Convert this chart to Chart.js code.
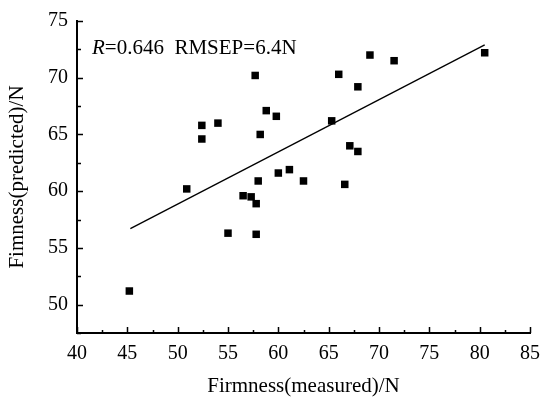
<!DOCTYPE html>
<html>
<head>
<meta charset="utf-8">
<script src="https://cdn.jsdelivr.net/npm/chart.js@4"></script>
<style>
  html, body { margin: 0; padding: 0; background: #fff; }
  #wrap { width: 540px; height: 399px; }
</style>
</head>
<body>
<div id="wrap"><canvas id="c" width="540" height="399"></canvas></div>
<script>
// Firmness: measured vs predicted (scatter + fit line)

// Data
const measured  = [57.7, 52.4, 54.0, 52.4, 58.8, 59.8, 58.2, 60.0, 61.1, 58.0, 62.5, 69.1, 71.5, 66.0,
                   67.9, 65.3, 67.1, 67.9, 80.5, 66.6, 50.9, 56.5, 57.3, 57.8, 55.0, 57.8, 45.2];
const predicted = [70.2, 65.8, 66.0, 64.6, 67.1, 66.6, 65.0, 61.6, 61.9, 60.9, 60.9, 72.0, 71.5, 70.3,
                   69.2, 66.2, 64.0, 63.5, 72.2, 60.6, 60.2, 59.6, 59.5, 58.9, 56.3, 56.2, 51.2];
const fitX = [45.3, 80.5];
const fitY = [56.7, 72.9];

const xTicks = [40, 45, 50, 55, 60, 65, 70, 75, 80, 85];
const yTicks = [50, 55, 60, 65, 70, 75];
const yMin = 47.5;
const statsLabel = ['R', '=0.646  RMSEP=6.4N'];

const FONT = "'Liberation Serif', 'Times New Roman', serif";

// inward major/minor tick marks, drawn through the scales
const inwardTicks = {
  id: 'inwardTicks',
  afterDatasetsDraw(chart){
    const { ctx, scales: { x, y } } = chart;
    ctx.save();
    ctx.strokeStyle = '#000';
    ctx.lineWidth = 1.5;
    ctx.beginPath();
    for (let v = xTicks[0]; v <= xTicks[xTicks.length - 1]; v += 2.5) {
      const px = Math.round(x.getPixelForValue(v)) + 0.5;
      const len = v % 5 === 0 ? 6 : 3;
      ctx.moveTo(px, y.bottom);
      ctx.lineTo(px, y.bottom - len);
    }
    for (let v = yMin; v <= yTicks[yTicks.length - 1]; v += 2.5) {
      const py = Math.round(y.getPixelForValue(v)) + 0.5;
      const len = v % 5 === 0 ? 6 : 4;
      ctx.moveTo(x.left, py);
      ctx.lineTo(x.left + len, py);
    }
    ctx.stroke();

    // stats text
    const { left, top } = chart.chartArea;
    ctx.fillStyle = '#000';
    ctx.textBaseline = 'alphabetic';
    ctx.font = 'italic 21px ' + FONT;
    ctx.fillText(statsLabel[0], left + 15, top + 33);
    const w = ctx.measureText(statsLabel[0]).width;
    ctx.font = '21px ' + FONT;
    ctx.fillText(statsLabel[1], left + 15 + w, top + 33);
    ctx.restore();
  }
};

new Chart(document.getElementById('c'), {
  type: 'scatter',
  data: {
    datasets: [
      {
        label: 'samples',
        data: measured.map((m, i) => ({ x: m, y: predicted[i] })),
        backgroundColor: '#000',
        borderWidth: 0,
        pointStyle: 'rect',
        pointRadius: 5.3
      },
      {
        type: 'line',
        label: 'fit',
        data: fitX.map((m, i) => ({ x: m, y: fitY[i] })),
        borderColor: '#000',
        borderWidth: 1.3,
        pointRadius: 0,
        fill: false
      }
    ]
  },
  options: {
    responsive: false,
    animation: false,
    layout: { padding: { top: 21, right: 10, left: 0, bottom: 0 } },
    plugins: { legend: { display: false }, tooltip: { enabled: false } },
    scales: {
      x: {
        type: 'linear',
        min: xTicks[0],
        max: xTicks[xTicks.length - 1],
        afterBuildTicks: s => { s.ticks = xTicks.map(v => ({ value: v })); },
        afterFit: s => { s.height = 66; s.paddingRight = 0; s.paddingLeft = 0; },
        grid: { display: false, drawTicks: false },
        border: { display: true, color: '#000', width: 2 },
        ticks: { color: '#000', padding: 9, font: { family: FONT, size: 20 } },
        title: {
          display: true, text: 'Firmness(measured)/N', color: '#000',
          font: { family: FONT, size: 21 }, padding: { top: 0, bottom: 0 }
        }
      },
      y: {
        type: 'linear',
        min: yMin,
        max: yTicks[yTicks.length - 1],
        afterBuildTicks: s => { s.ticks = yTicks.map(v => ({ value: v })); },
        afterFit: s => { s.width = 77; },
        grid: { display: false, drawTicks: false },
        border: { display: true, color: '#000', width: 2 },
        ticks: { color: '#000', padding: 9, font: { family: FONT, size: 20 } },
        title: {
          display: true, text: 'Fimness(predicted)/N', color: '#000',
          font: { family: FONT, size: 21 }, padding: { top: 5, bottom: 0 }
        }
      }
    }
  },
  plugins: [inwardTicks]
});
</script>
</body>
</html>
